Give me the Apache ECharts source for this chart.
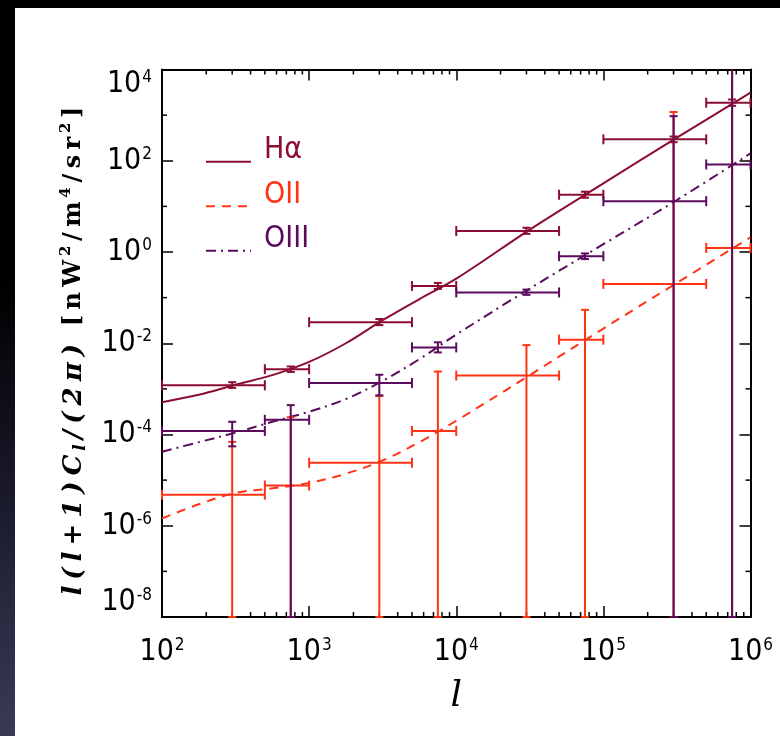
<!DOCTYPE html>
<html>
<head>
<meta charset="utf-8">
<script src="https://cdn.jsdelivr.net/npm/echarts@6/dist/echarts.min.js"></script>
<style>
  html, body { margin: 0; padding: 0; background: #fff; }
  #chart { width: 780px; height: 736px; }
</style>
</head>
<body>
<div id="chart"></div>
<script>
// Multipole bins (centre and edges)
const binCentre = [300, 750, 3000, 7500, 3e4, 7.5e4, 3e5, 7.5e5];
const binLow    = [100, 500, 1000, 5000, 1e4, 5e4, 1e5, 5e5];
const binHigh   = [500, 1000, 5000, 1e4, 5e4, 1e5, 5e5, 1e6];

// Binned power l(l+1)C_l/(2pi) per line, with error limits
// (null = the error bar runs past the plotted range)
const haPower = [1.2e-3, 2.7e-3, 0.029, 0.18, 2.9, 18, 295, 1870];
const haLower = [1.05e-3, 2.35e-3, 0.025, 0.155, 2.5, 15.5, 255, 1600];
const haUpper = [1.4e-3, 3.1e-3, 0.034, 0.21, 3.4, 21, 340, 2200];

const o2Power = [4.8e-6, 7.6e-6, 2.4e-5, 1.2e-4, 1.96e-3, 0.012, 0.2, 1.23];
const o2Lower = [null, null, null, null, null, null, null, null];
const o2Upper = [6.9e-5, 2.4e-4, 7e-4, 2.4e-3, 9.1e-3, 0.054, 1170, null];

const o3Power = [1.2e-4, 2.1e-4, 1.35e-3, 8.1e-3, 0.13, 0.81, 13, 83];
const o3Lower = [5.5e-5, null, 7.2e-4, 6.3e-3, 0.115, 0.7, null, null];
const o3Upper = [1.9e-4, 4.4e-4, 2.04e-3, 0.0105, 0.15, 0.93, 950, null];

// Model power spectra sampled in l
const modelL  = [100, 178, 316, 562, 1000, 1778, 3162, 5623, 1e4, 3.16e4, 1e5, 3.16e5, 1e6];
const haModel = [5.1e-4, 7.4e-4, 1.23e-3, 2.0e-3, 3.9e-3, 0.010, 0.032, 0.093, 0.26, 3.1, 32, 320, 3100];
const o2Model = [1.45e-6, 2.95e-6, 5.25e-6, 6.6e-6, 8.7e-6, 1.38e-5, 2.7e-5, 6.8e-5, 2.0e-4, 2.0e-3, 0.021, 0.21, 2.1];
const o3Model = [4.2e-5, 6.8e-5, 1.1e-4, 1.9e-4, 3.16e-4, 6.0e-4, 1.5e-3, 4.5e-3, 0.0155, 0.158, 1.48, 13.8, 145];

const lineNames = ['Hα', 'OII', 'OIII'];

// Minor tick positions
const xMinorTicks = [200, 300, 400, 500, 600, 700, 800, 900,
                     2e3, 3e3, 4e3, 5e3, 6e3, 7e3, 8e3, 9e3,
                     2e4, 3e4, 4e4, 5e4, 6e4, 7e4, 8e4, 9e4,
                     2e5, 3e5, 4e5, 5e5, 6e5, 7e5, 8e5, 9e5];
const yMinorTicks = [1e-7, 1e-5, 1e-3, 1e-1, 1e1, 1e3];

const X_MIN = 100, X_MAX = 1e6;
const Y_MIN = 1e-8, Y_MAX = 1e4;

const COL_HA = '#8b0d32';
const COL_O2 = '#ff3314';
const COL_O3 = '#5c0a5c';

const tickFont = "'Liberation Sans Narrow', 'DejaVu Sans Condensed', 'Liberation Sans', sans-serif";

function powLabel(v) {
  const e = Math.round(Math.log10(v));
  return '{b|10}{s|' + e + '}';
}
const powRich = {
  b: { fontFamily: tickFont, fontSize: 30, lineHeight: 30, color: '#000', verticalAlign: 'top' },
  s: { fontFamily: tickFont, fontSize: 17, lineHeight: 16, color: '#000', verticalAlign: 'top', padding: [0, 0, 0, 1] }
};

function spaced(style, str) {
  return Array.from(str).map(ch => '{' + style + '|' + ch + '}').join('');
}
const yTitle =
  spaced('i', 'l(l+1)C') + '{isub|l}' + spaced('i', '/(2π)') + '{gap| }' +
  spaced('r', '[nW') + '{rs|2}' + spaced('r', '/m') + '{rs|4}' + spaced('r', '/sr') + '{rs|2}' + '{r|]}';
const titleRich = {
  i:    { fontFamily: 'DejaVu Serif', fontStyle: 'italic', fontWeight: 'bold', fontSize: 26, lineHeight: 30, color: '#000', padding: [0, 3, 0, 3], verticalAlign: 'middle' },
  isub: { fontFamily: 'DejaVu Serif', fontStyle: 'italic', fontWeight: 'bold', fontSize: 17, lineHeight: 16, color: '#000', padding: [0, 2, 0, 1], verticalAlign: 'bottom' },
  gap:  { width: 12 },
  r:    { fontFamily: 'DejaVu Serif', fontWeight: 'bold', fontSize: 24, lineHeight: 30, color: '#000', padding: [0, 2.7, 0, 2.7], verticalAlign: 'middle' },
  rs:   { fontFamily: 'DejaVu Serif', fontWeight: 'bold', fontSize: 15, lineHeight: 15, color: '#000', padding: [0, 2, 0, 1], verticalAlign: 'top' }
};

function logXAxis(position, showLabels) {
  return {
    type: 'log', logBase: 10, min: X_MIN, max: X_MAX, splitNumber: 4,
    position: position,
    axisLine: { show: true, onZero: false, lineStyle: { color: '#000', width: 2 } },
    axisTick: { show: true, inside: true, length: 11, lineStyle: { color: '#000', width: 1.5 } },
    splitLine: { show: false },
    axisLabel: showLabels ? { show: true, margin: 20, formatter: powLabel, rich: powRich } : { show: false }
  };
}
function logYAxis(position, showLabels) {
  return {
    type: 'log', logBase: 100, min: Y_MIN, max: Y_MAX, splitNumber: 6,
    position: position,
    axisLine: { show: true, onZero: false, lineStyle: { color: '#000', width: 2 } },
    axisTick: { show: true, inside: true, length: 11, lineStyle: { color: '#000', width: 1.5 } },
    splitLine: { show: false },
    axisLabel: showLabels ? {
      show: true, margin: 10, formatter: powLabel, rich: powRich,
      verticalAlignMaxLabel: 'top', verticalAlignMinLabel: 'bottom'
    } : { show: false }
  };
}

// Short tick marks on both opposite frame edges
function minorTickSeries(values, onX) {
  return {
    type: 'custom', name: onX ? 'x minor ticks' : 'y minor ticks',
    xAxisIndex: 0, yAxisIndex: 0, z: 1, silent: true,
    encode: { x: 0, y: 1 },
    data: values.map(v => onX ? [v, Y_MIN] : [X_MIN, v]),
    renderItem: function (params, api) {
      const st = { stroke: '#000', lineWidth: 1.5 };
      const len = 5;
      if (onX) {
        const v = api.value(0);
        const b = api.coord([v, Y_MIN]);
        const t = api.coord([v, Y_MAX]);
        return { type: 'group', children: [
          { type: 'line', shape: { x1: b[0], y1: b[1], x2: b[0], y2: b[1] - len }, style: st },
          { type: 'line', shape: { x1: t[0], y1: t[1], x2: t[0], y2: t[1] + len }, style: st }
        ] };
      }
      const v = api.value(1);
      const l = api.coord([X_MIN, v]);
      const r = api.coord([X_MAX, v]);
      return { type: 'group', children: [
        { type: 'line', shape: { x1: l[0], y1: l[1], x2: l[0] + len, y2: l[1] }, style: st },
        { type: 'line', shape: { x1: r[0], y1: r[1], x2: r[0] - len, y2: r[1] }, style: st }
      ] };
    }
  };
}

function errorSeries(name, power, lower, upper, color, z) {
  return {
    type: 'custom',
    name: name + ' bins',
    xAxisIndex: 0, yAxisIndex: 0,
    z: z,
    silent: true,
    itemStyle: { color: color },
    encode: { x: 0, y: 1 },
    data: binCentre.map((c, i) => [c, power[i], binLow[i], binHigh[i], lower[i], upper[i]]),
    renderItem: function (params, api) {
      const xc = api.value(0), yv = api.value(1);
      const xl = api.value(2), xh = api.value(3);
      const lo = api.value(4), hi = api.value(5);
      const col = api.visual('color');
      const c = api.coord([xc, yv]);
      const pl = api.coord([xl, yv]);
      const ph = api.coord([xh, yv]);
      const below = !(lo > 0) || lo < Y_MIN;
      const above = !(hi > 0) || hi > Y_MAX;
      const yl = api.coord([xc, below ? Y_MIN : lo])[1];
      const yh = api.coord([xc, above ? Y_MAX : hi])[1];
      const st = { stroke: col, lineWidth: 2, fill: null };
      const seg = (x1, y1, x2, y2) => ({ type: 'line', shape: { x1, y1, x2, y2 }, style: st });
      const capV = 5, capH = 4;
      const kids = [
        seg(pl[0], c[1], ph[0], c[1]),
        seg(pl[0], c[1] - capV, pl[0], c[1] + capV),
        seg(ph[0], c[1] - capV, ph[0], c[1] + capV),
        seg(c[0], yl, c[0], yh),
        seg(c[0] - capH, yl, c[0] + capH, yl)
      ];
      if (!above) kids.push(seg(c[0] - capH, yh, c[0] + capH, yh));
      return { type: 'group', children: kids };
    }
  };
}

function modelSeries(name, values, color, dash, z) {
  return {
    type: 'line', name: name,
    xAxisIndex: 0, yAxisIndex: 0, z: z,
    symbol: 'none', smooth: 0.35, silent: true,
    lineStyle: { color: color, width: 2, type: dash },
    itemStyle: { color: color },
    data: modelL.map((l, i) => [l, values[i]])
  };
}

const chart = echarts.init(document.getElementById('chart'), null, { renderer: 'canvas' });

chart.setOption({
  backgroundColor: '#fff',
  animation: false,
  graphic: [
    { type: 'rect', left: 0, top: 0, z: -10, shape: { width: 780, height: 8 }, style: { fill: '#000' } },
    { type: 'rect', left: 0, top: 0, z: -10, shape: { width: 15, height: 736 },
      style: { fill: new echarts.graphic.LinearGradient(0, 0, 0, 1, [
        { offset: 0, color: '#000000' },
        { offset: 0.38, color: '#000000' },
        { offset: 0.7, color: '#1c1c30' },
        { offset: 1, color: '#3a3a56' }
      ]) } }
  ],
  grid: { left: 162, right: 29.5, top: 69.5, bottom: 119, containLabel: false },
  legend: {
    orient: 'vertical', left: 205, top: 135.7, padding: 0,
    itemWidth: 45, itemHeight: 14, itemGap: -7.5,
    selectedMode: false,
    itemStyle: { opacity: 0 },
    data: [
      { name: lineNames[0], textStyle: { color: COL_HA } },
      { name: lineNames[1], textStyle: { color: COL_O2 } },
      { name: lineNames[2], textStyle: { color: COL_O3 } }
    ],
    formatter: name => '{t|' + name + '}',
    textStyle: {
      fontFamily: tickFont, fontSize: 30,
      rich: { t: { fontFamily: tickFont, fontSize: 30, lineHeight: 22, padding: [0, 0, 22, 8] } }
    }
  },
  xAxis: [
    Object.assign(logXAxis('bottom', true), {
      name: 'l', nameLocation: 'middle', nameGap: 62,
      nameTextStyle: { fontFamily: 'DejaVu Serif', fontStyle: 'italic', fontSize: 36, color: '#000' }
    }),
    logXAxis('top', false)
  ],
  yAxis: [
    Object.assign(logYAxis('left', true), {
      name: yTitle, nameLocation: 'middle', nameRotate: 90, nameGap: 73,
      nameTextStyle: { rich: titleRich, padding: [0, 16, 0, 0] }
    }),
    logYAxis('right', false)
  ],
  series: [
    modelSeries(lineNames[0], haModel, COL_HA, 'solid', 3),
    modelSeries(lineNames[1], o2Model, COL_O2, [9, 7], 3),
    modelSeries(lineNames[2], o3Model, COL_O3, [10, 5, 2, 5], 3),
    minorTickSeries(xMinorTicks, true),
    minorTickSeries(yMinorTicks, false),
    errorSeries(lineNames[0], haPower, haLower, haUpper, COL_HA, 4),
    errorSeries(lineNames[1], o2Power, o2Lower, o2Upper, COL_O2, 5),
    errorSeries(lineNames[2], o3Power, o3Lower, o3Upper, COL_O3, 6)
  ]
});
</script>
</body>
</html>
